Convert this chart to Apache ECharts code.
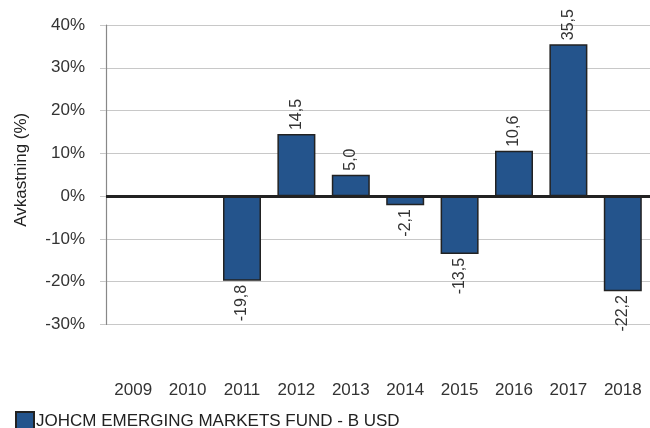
<!DOCTYPE html>
<html>
<head>
<meta charset="utf-8">
<script src="https://cdn.jsdelivr.net/npm/echarts@6/dist/echarts.min.js"></script>
<style>
  html, body { margin: 0; padding: 0; background: #fff; }
  #chart { width: 650px; height: 428px; }
</style>
</head>
<body>
<div id="chart"></div>
<script>
  // data
  var years = ["2009", "2010", "2011", "2012", "2013", "2014", "2015", "2016", "2017", "2018"];
  var returns = [null, null, -19.8, 14.5, 5.0, -2.1, -13.5, 10.6, 35.5, -22.2];
  var seriesName = "JOHCM EMERGING MARKETS FUND - B USD";

  var font = "Liberation Sans, Arial, sans-serif";

  // positive labels sit above the bar, negative ones below
  var barData = returns.map(function (v) {
    if (v == null) return v;
    return {
      value: v,
      label: v < 0
        ? { position: "bottom", align: "right" }
        : { position: "top", align: "left" }
    };
  });

  var chart = echarts.init(document.getElementById("chart"));

  chart.setOption({
    animation: false,
    grid: {
      left: 106,
      right: 0,
      top: 25,
      bottom: 103.5
    },
    legend: {
      left: 15,
      top: 411,
      padding: 0,
      itemWidth: 18,
      itemHeight: 18,
      icon: "rect",
      itemGap: 0,
      textStyle: {
        fontFamily: font,
        fontSize: 17,
        color: "#222",
        padding: [3, 0, 0, -3]
      },
      data: [seriesName]
    },
    xAxis: {
      type: "category",
      data: years,
      axisLine: { show: false, onZero: false },
      axisTick: { show: false },
      axisLabel: {
        margin: 57,
        fontFamily: font,
        fontSize: 17,
        color: "#333"
      }
    },
    yAxis: {
      type: "value",
      min: -30,
      max: 40,
      interval: 10,
      name: "Avkastning (%)",
      nameLocation: "middle",
      nameGap: 76,
      nameTextStyle: {
        fontFamily: font,
        fontSize: 17,
        color: "#222",
        padding: [0, 0, 0, 10]
      },
      axisLine: { show: true, lineStyle: { color: "#888", width: 1.2 } },
      axisTick: { show: true, length: 6, lineStyle: { color: "#c8c8c8" } },
      splitLine: { lineStyle: { color: "#c8c8c8", width: 1 } },
      axisLabel: {
        margin: 21,
        formatter: "{value}%",
        fontFamily: font,
        fontSize: 17,
        color: "#333"
      }
    },
    series: [
      {
        name: seriesName,
        type: "bar",
        data: barData,
        barWidth: 38,
        itemStyle: {
          color: "#24548c",
          borderColor: "#222",
          borderWidth: 1.5
        },
        label: {
          show: true,
          rotate: 90,
          distance: 4,
          verticalAlign: "middle",
          fontFamily: font,
          fontSize: 16,
          color: "#333",
          formatter: function (p) {
            return p.value.toFixed(1).replace(".", ",");
          }
        },
        markLine: {
          silent: true,
          symbol: "none",
          label: { show: false },
          lineStyle: { color: "#222", width: 3, type: "solid" },
          data: [{ yAxis: 0 }]
        }
      }
    ]
  });
</script>
</body>
</html>
